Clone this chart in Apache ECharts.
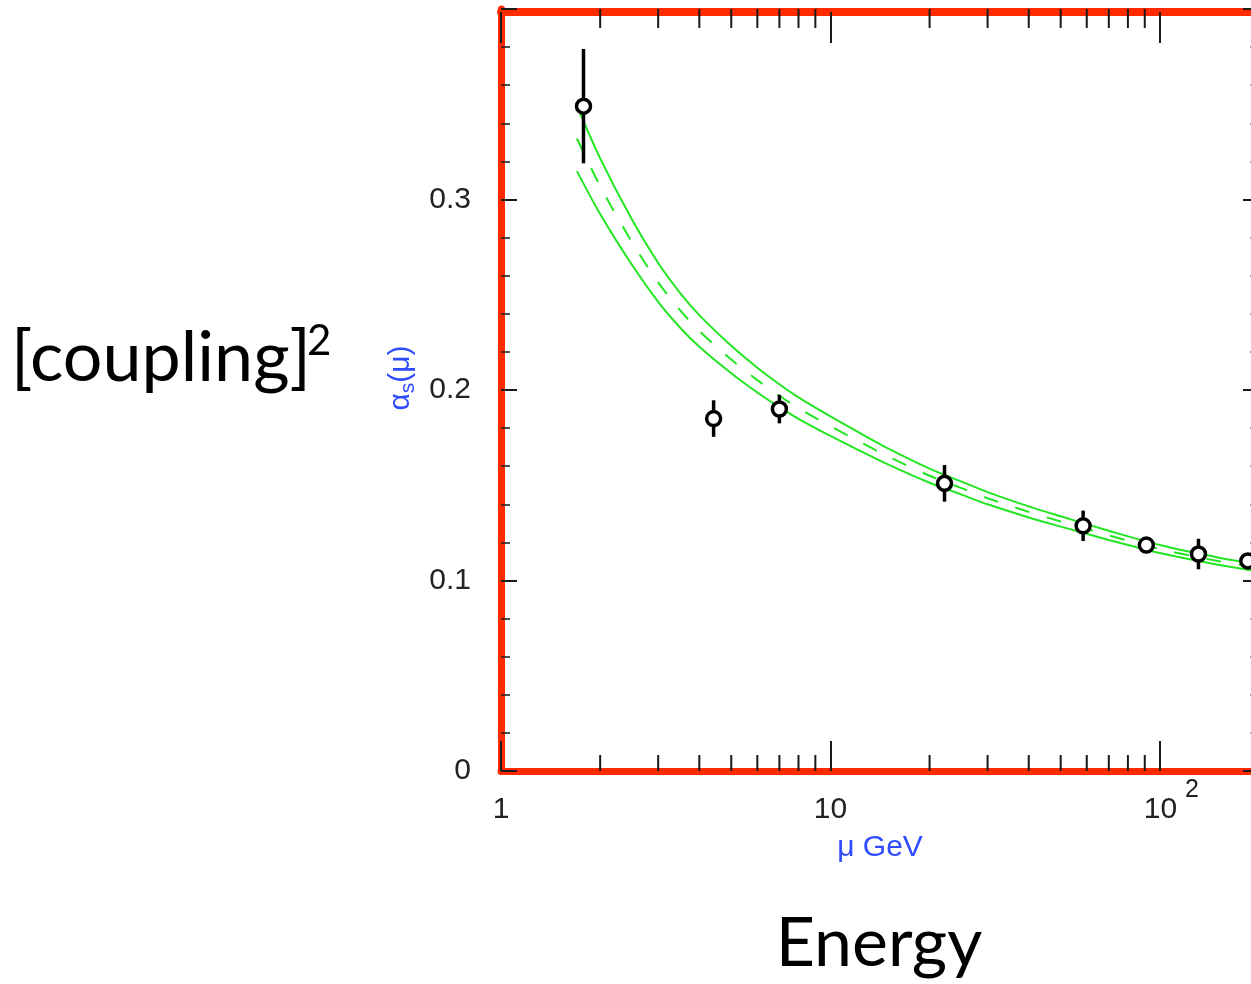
<!DOCTYPE html>
<html>
<head>
<meta charset="utf-8">
<script src="https://cdn.jsdelivr.net/npm/echarts@6/dist/echarts.min.js"></script>
<style>
  html, body { margin: 0; padding: 0; background: #fff; }
  #chart { width: 1251px; height: 984px; }
</style>
</head>
<body>
<div id="chart"></div>
<script>
// measurements: mu (GeV), alpha_s, error
const energies = [1.78, 4.42, 7.0, 22.2, 58.5, 91.0, 131, 185]
const alphaValues = [0.349, 0.185, 0.190, 0.151, 0.1287, 0.1186, 0.1139, 0.1103]
const alphaErrors = [0.030, 0.0096, 0.0075, 0.0096, 0.008, 0.002, 0.008, 0.003]

// theory band
const curveMu = [1.7, 2, 2.5, 3, 3.5, 4, 5, 6, 7, 8, 10, 12, 15, 20, 25, 30, 40, 50, 70, 100, 150, 200]
const curveCentral = [0.332, 0.307, 0.2775, 0.2565, 0.2418, 0.231, 0.216, 0.2052, 0.197, 0.1905, 0.181, 0.1737, 0.165, 0.155, 0.1485, 0.1432, 0.136, 0.131, 0.1237, 0.1165, 0.1102, 0.1066]
const curveUpper = [0.3491, 0.3216, 0.2894, 0.2667, 0.2509, 0.2393, 0.2232, 0.2117, 0.203, 0.1961, 0.1861, 0.1784, 0.1692, 0.1587, 0.1519, 0.1464, 0.1389, 0.1337, 0.1261, 0.1186, 0.1121, 0.1084]
const curveLower = [0.3149, 0.2924, 0.2656, 0.2463, 0.2327, 0.2227, 0.2088, 0.1987, 0.191, 0.1849, 0.1759, 0.169, 0.1608, 0.1513, 0.1451, 0.14, 0.1331, 0.1283, 0.1213, 0.1144, 0.1083, 0.1048]

// axis ticks / labels
const minorTicks = [2, 3, 4, 5, 6, 7, 8, 9, 20, 30, 40, 50, 60, 70, 80, 90]
const yTickLabels = ['0', '0.1', '0.2', '0.3', '']
const xLabelBases = ['1', '10', '10']
const xLabelSups = ['', '', '2']

const RED = '#ff2a00'
const GREEN = '#22e622'
const INK = '#1a1a1a'
const BLUE = '#2f4bff'
const LABEL_FONT = '"Liberation Sans", Arial, sans-serif'
const BIG_FONT = 'Lato, "Open Sans", sans-serif'

const chart = echarts.init(document.getElementById('chart'), null, { renderer: 'canvas' })

const pair = (xs, ys) => xs.map((x, i) => [x, ys[i]])

const bandLine = (name, values, type) => ({
  name,
  type: 'line',
  data: pair(curveMu, values),
  symbol: 'none',
  smooth: 0.3,
  silent: true,
  z: 2,
  lineStyle: { color: GREEN, width: 2, type: type || 'solid' }
})

const textStyle = (text, size, align) => ({
  text,
  fontSize: size,
  fontFamily: BIG_FONT,
  fill: '#000',
  align,
  verticalAlign: 'middle',
  textAlign: align,
  textVerticalAlign: 'middle'
})

chart.setOption({
  animation: false,
  backgroundColor: '#fff',
  grid: { left: 501, top: 9, width: 758, height: 762, outerBoundsMode: 'none' },
  xAxis: [{
    type: 'log',
    logBase: 10,
    min: 1,
    max: 200,
    axisLine: { show: true, onZero: false, lineStyle: { color: RED, width: 7 } },
    axisTick: { show: true, inside: true, length: 30, lineStyle: { color: INK, width: 2 } },
    splitLine: { show: false },
    axisLabel: {
      margin: 6,
      showMaxLabel: false,
      formatter (v) {
        const lg = Math.log10(v)
        const e = Math.round(lg)
        if (Math.abs(lg - e) > 1e-6 || e < 0 || e >= xLabelBases.length) return ''
        return xLabelSups[e]
          ? '{p|' + xLabelBases[e] + '}{s|' + xLabelSups[e] + '}'
          : '{n|' + xLabelBases[e] + '}'
      },
      rich: {
        n: { fontSize: 30, fontFamily: LABEL_FONT, color: '#222', padding: [18, 0, 0, 0] },
        p: { fontSize: 30, fontFamily: LABEL_FONT, color: '#222', padding: [18, 0, 0, 23] },
        s: { fontSize: 25, fontFamily: LABEL_FONT, color: '#222', padding: [0, 0, 22, 8] }
      }
    },
    name: 'μ GeV',
    nameLocation: 'middle',
    nameGap: 62,
    nameTextStyle: { color: BLUE, fontSize: 30, fontFamily: LABEL_FONT }
  }, {
    type: 'log',
    logBase: 10,
    min: 1,
    max: 200,
    position: 'top',
    offset: -3,
    axisLine: { show: true, onZero: false, lineStyle: { color: RED, width: 8 } },
    axisTick: { show: true, inside: true, length: 31, lineStyle: { color: INK, width: 2 } },
    axisLabel: { show: false },
    splitLine: { show: false }
  }],
  yAxis: [{
    type: 'value',
    min: 0,
    max: 0.4,
    interval: 0.1,
    axisLine: { show: true, onZero: false, lineStyle: { color: RED, width: 7 } },
    axisTick: { show: true, inside: true, length: 16, lineStyle: { color: INK, width: 2 } },
    minorTick: { show: true, splitNumber: 5, length: 9, lineStyle: { color: INK, width: 1.5 } },
    splitLine: { show: false },
    axisLabel: {
      margin: 30,
      fontSize: 30,
      fontFamily: LABEL_FONT,
      color: '#222',
      formatter: (v, i) => yTickLabels[i] || ''
    }
  }, {
    type: 'value',
    min: 0,
    max: 0.4,
    interval: 0.1,
    position: 'right',
    axisLine: { show: false },
    axisTick: { show: true, inside: true, length: 16, lineStyle: { color: INK, width: 2 } },
    minorTick: { show: true, splitNumber: 5, length: 9, lineStyle: { color: '#888', width: 1.5 } },
    splitLine: { show: false },
    axisLabel: { show: false }
  }],
  graphic: [{
    type: 'text',
    x: 401,
    y: 378,
    rotation: Math.PI / 2,
    style: {
      text: '{a|α}{s|s}{a|(μ)}',
      align: 'center',
      verticalAlign: 'middle',
      textAlign: 'center',
      textVerticalAlign: 'middle',
      rich: {
        a: { fontSize: 30, fontFamily: LABEL_FONT, fill: BLUE, color: BLUE },
        s: { fontSize: 21, fontFamily: LABEL_FONT, fill: BLUE, color: BLUE, padding: [15, 0, 0, 0] }
      }
    }
  }, {
    type: 'text',
    x: 11,
    y: 358,
    style: textStyle('[coupling]', 70, 'left')
  }, {
    type: 'text',
    x: 307,
    y: 341,
    style: textStyle('2', 42, 'left')
  }, {
    type: 'text',
    x: 879,
    y: 944,
    style: textStyle('Energy', 68, 'center')
  }],
  series: [
    bandLine('lower', curveLower),
    bandLine('upper', curveUpper),
    bandLine('central', curveCentral, [15, 18]),
    {
      name: 'errors',
      type: 'custom',
      silent: true,
      z: 3,
      data: energies.map((e, i) => [e, alphaValues[i] - alphaErrors[i], alphaValues[i] + alphaErrors[i]]),
      encode: { x: 0, y: [1, 2] },
      renderItem (params, api) {
        const lo = api.coord([api.value(0), api.value(1)])
        const hi = api.coord([api.value(0), api.value(2)])
        return {
          type: 'line',
          shape: { x1: lo[0], y1: lo[1], x2: hi[0], y2: hi[1] },
          style: { stroke: '#000', lineWidth: 3.5 }
        }
      }
    }, {
      name: 'data',
      type: 'scatter',
      silent: true,
      z: 4,
      data: pair(energies, alphaValues),
      symbol: 'circle',
      symbolSize: 14,
      itemStyle: { color: '#fff', borderColor: '#000', borderWidth: 3.5, opacity: 1 }
    }, {
      name: 'minorTicks',
      type: 'custom',
      silent: true,
      z: 5,
      clip: false,
      data: minorTicks.map(v => [v, 0]),
      renderItem (params, api) {
        const b = api.coord([api.value(0), 0])
        const t = api.coord([api.value(0), 0.4])
        return {
          type: 'group',
          children: [{
            type: 'line',
            shape: { x1: b[0], y1: b[1], x2: b[0], y2: b[1] - 16 },
            style: { stroke: INK, lineWidth: 2 }
          }, {
            type: 'line',
            shape: { x1: t[0], y1: t[1], x2: t[0], y2: t[1] + 19 },
            style: { stroke: INK, lineWidth: 2 }
          }]
        }
      }
    }
  ]
})
</script>
</body>
</html>
